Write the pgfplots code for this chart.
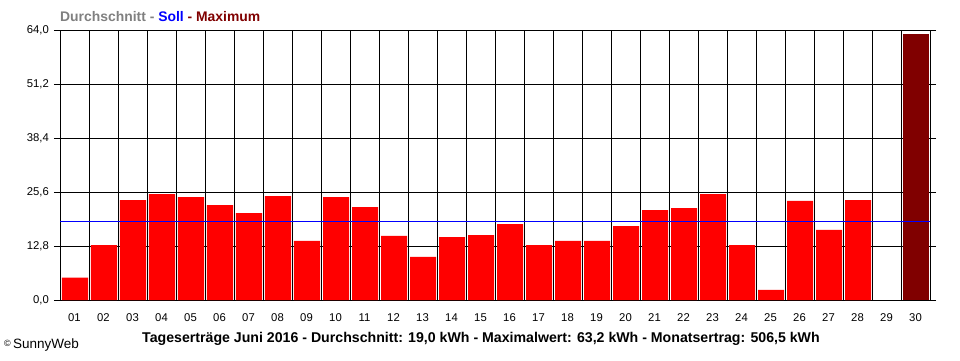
\documentclass[border=0pt]{standalone}
\usepackage{pgfplots}
\pgfplotsset{compat=1.18}
\usepackage{fontspec}
\setmainfont{Liberation Sans}
\definecolor{maxred}{RGB}{128,0,0}
\definecolor{avggray}{RGB}{128,128,128}
\definecolor{sollblue}{RGB}{0,0,255}
\begin{document}
\begin{tikzpicture}[x=1bp,y=1bp]
\useasboundingbox (0,0) rectangle (960,360);
\begin{axis}[
  at={(60bp,60bp)}, anchor=south west,
  scale only axis, width=870bp, height=270bp,
  xmin=0.5, xmax=30.5, ymin=0, ymax=64,
  axis line style={black, line width=1bp},
  xtick={1,...,30},
  xticklabels={01,02,03,04,05,06,07,08,09,10,11,12,13,14,15,16,17,18,19,20,21,22,23,24,25,26,27,28,29,30},
  x tick style={draw=none},
  extra x ticks={0.5,1.5,...,30.5},
  extra x tick labels={},
  extra x tick style={grid=major, tick align=outside, major tick length=6bp, tick style={black, line width=1bp, draw=black}},
  ytick={0,12.8,25.6,38.4,51.2,64},
  yticklabels={{0,0},{12,8},{25,6},{38,4},{51,2},{64,0}},
  ymajorgrids,
  y tick style={black, line width=1bp},
  tick align=outside, major tick length=6bp,
  grid style={black, line width=1bp},
  tick label style={font=\fontsize{11.3bp}{13bp}\selectfont, inner sep=0pt},
  xticklabel style={anchor=north, yshift=-7.5bp},
  yticklabel style={anchor=east, xshift=-5bp},
  clip=false,
]
\addplot[ybar, bar width=0.897, fill=red, draw=none, bar shift=0.5bp] coordinates {
(1,5.3) (2,13.0) (3,23.7) (4,25.1) (5,24.4) (6,22.5) (7,20.6) (8,24.6) (9,14.0) (10,24.4)
(11,22.0) (12,15.2) (13,10.2) (14,14.9) (15,15.4) (16,18.0) (17,13.0) (18,14.0) (19,14.0) (20,17.5)
(21,21.3) (22,21.8) (23,25.1) (24,13.0) (25,2.4) (26,23.5) (27,16.6) (28,23.7)
};
\addplot[ybar, bar width=0.897, fill=maxred, draw=none, bar shift=0.5bp] coordinates {(30,63.1)};
\addplot[sollblue, line width=1bp, no marks] coordinates {(0.5,18.65) (30.5,18.65)};
\end{axis}
\node[anchor=west, inner sep=0pt, font=\bfseries\fontsize{13.9bp}{16bp}\selectfont] at (60,343)
  {\textcolor{avggray}{Durchschnitt -} \textcolor{sollblue}{Soll} \textcolor{maxred}{- Maximum}};
\node[inner sep=0pt, font=\bfseries\fontsize{14.15bp}{16bp}\selectfont] at (481,21)
  {Tageserträge Juni 2016 - Durchschnitt: 19,0 kWh - Maximalwert: 63,2 kWh - Monatsertrag: 506,5 kWh};
\node[anchor=west, inner sep=0pt, font=\fontsize{13.5bp}{15bp}\selectfont] at (4,15)
  {\raisebox{1.5bp}{\fontsize{9bp}{10bp}\selectfont ©}\,SunnyWeb};
\end{tikzpicture}
\end{document}
